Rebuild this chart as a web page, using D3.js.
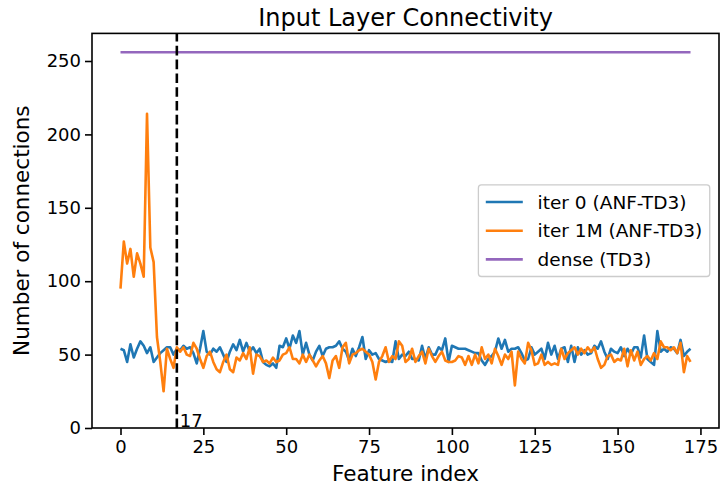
<!DOCTYPE html>
<html>
<head>
<meta charset="utf-8">
<script src="https://cdn.jsdelivr.net/npm/d3@7"></script>
<style>
  body { margin: 0; background: #fff; }
  svg { display: block; }
  text { font-family: "DejaVu Sans", sans-serif; fill: #000; }
</style>
</head>
<body>
<svg id="chart" width="727" height="491"></svg>
<script>
// Connections per input feature, at initialisation and after 1M steps
const iter0 = [
  54, 53, 45, 57, 48, 54, 59, 56, 51, 55, 45, 48, 51, 53, 55,
  55, 50, 54, 53, 56, 54, 55, 51, 44, 54, 66, 52, 50, 54, 52, 55, 50, 45, 52, 57,
  53, 60, 52, 58, 52, 55, 51, 54, 45, 43, 42, 44, 41, 56, 55,
  61, 54, 63, 58, 66,
  50, 58, 50, 46, 52, 56, 49, 54, 55, 55, 56, 59, 54,
  52, 46,
  54, 49, 55, 62, 47, 53, 50, 51, 47, 46, 45, 46, 45, 59, 47,
  50, 49, 52, 47, 47, 46, 56, 47, 55, 50, 50, 55, 53, 61, 45, 56, 55, 54,
  54, 54, 53, 52, 51, 51, 46, 43, 47, 49, 52, 61, 54, 60, 52, 54, 54,
  55, 51, 46, 47, 55, 50, 52, 54, 47, 58, 50, 56, 47, 54, 55, 45, 56, 45,
  55, 50, 53, 50, 51, 56, 54, 59, 52, 47, 54, 52, 51, 55, 49, 54, 50,
  55, 55, 48,
  63, 47, 45, 43, 66, 52, 54, 52, 55, 54, 51, 60, 49, 52, 54
];
const iter1M = [
  95, 127, 112, 122, 103, 119, 112, 103, 214, 123, 113, 62, 45, 25, 54,
  47, 41, 55, 52, 55, 50, 49, 58, 54, 47, 41, 49, 52, 45, 40, 38, 45, 50,
  40, 38, 48, 46, 51, 47, 55, 37, 50, 49, 45, 46, 44, 48, 45, 46, 50,
  51, 55, 47, 47, 44, 50, 45, 50, 46, 42, 46, 49, 44, 34, 46, 49, 41, 55,
  58, 44, 50, 51, 53, 54, 52, 50, 45, 33, 45, 49, 55, 45, 49, 47,
  59, 56, 45,
  47, 54, 45, 49, 52, 44, 54, 49, 45, 49, 52, 46, 45, 45, 46, 49,
  48, 43,
  49, 43, 50, 44, 55, 47, 50, 44, 54, 49, 43, 50, 47, 52, 29,
  52, 47, 44,
  58, 53, 43, 44, 50, 43, 45, 43, 44, 43, 54, 47, 51, 53, 55,
  50, 54,
  51, 55, 52, 55, 47, 41, 43, 49, 50, 45, 47, 46, 54, 42, 53,
  46, 52, 43,
  47, 49, 46, 51, 47, 59, 55, 55, 53, 55, 51, 58, 38, 49, 45
];
// Fully connected layer: every feature feeds all hidden units
const denseWidth = 256;
const cutoffFeature = 17;

const seriesLabels = ["iter 0 (ANF-TD3)", "iter 1M (ANF-TD3)", "dense (TD3)"];
const seriesColors = ["#1f77b4", "#ff7f0e", "#9467bd"];
const xTickValues = [0, 25, 50, 75, 100, 125, 150, 175];
const yTickValues = [0, 50, 100, 150, 200, 250];

const featureIdx = iter0.map((_, i) => i);
const denseSeries = featureIdx.map(() => denseWidth);

const svg = d3.select("#chart");
const box = { left: 92, right: 719, top: 33.4, bottom: 428 };
const lastIdx = featureIdx.length - 1;

const x = d3.scaleLinear()
  .domain([-lastIdx * 0.05, lastIdx * 1.05])
  .range([box.left, box.right]);
const y = d3.scaleLinear()
  .domain([0, denseWidth * 1.05])
  .range([box.bottom, box.top]);

svg.append("defs").append("clipPath").attr("id", "plotArea")
  .append("rect")
  .attr("x", box.left).attr("y", box.top)
  .attr("width", box.right - box.left).attr("height", box.bottom - box.top);

const lineGen = d3.line()
  .x((d, i) => x(featureIdx[i]))
  .y(d => y(d));

const plot = svg.append("g").attr("clip-path", "url(#plotArea)");
[iter0, iter1M, denseSeries].forEach((series, k) => {
  plot.append("path")
    .datum(series)
    .attr("d", lineGen)
    .attr("fill", "none")
    .attr("stroke", seriesColors[k])
    .attr("stroke-width", 2.6)
    .attr("stroke-linejoin", "round")
    .attr("stroke-linecap", "butt");
});

// Cut-off marker
plot.append("line")
  .attr("x1", x(cutoffFeature)).attr("x2", x(cutoffFeature))
  .attr("y1", box.bottom).attr("y2", box.top)
  .attr("stroke", "#000")
  .attr("stroke-width", 2.6)
  .attr("stroke-dasharray", "9.6,4.2");

svg.append("text")
  .attr("x", x(cutoffFeature) + 3)
  .attr("y", y(0) - 1)
  .attr("font-size", 18)
  .text(String(cutoffFeature));

// Axes
const xAxis = svg.append("g")
  .attr("transform", `translate(0,${box.bottom})`)
  .call(d3.axisBottom(x).tickValues(xTickValues).tickSize(7).tickPadding(5).tickFormat(d3.format("d")));
const yAxis = svg.append("g")
  .attr("transform", `translate(${box.left},0)`)
  .call(d3.axisLeft(y).tickValues(yTickValues).tickSize(7).tickPadding(4).tickFormat(d3.format("d")));

[xAxis, yAxis].forEach(ax => {
  ax.select(".domain").remove();
  ax.selectAll(".tick line").attr("stroke", "#000").attr("stroke-width", 1.6);
  ax.selectAll(".tick text")
    .attr("font-size", 18)
    .attr("font-family", "DejaVu Sans, sans-serif")
    .attr("fill", "#000");
});

svg.append("rect")
  .attr("x", box.left).attr("y", box.top)
  .attr("width", box.right - box.left).attr("height", box.bottom - box.top)
  .attr("fill", "none").attr("stroke", "#000").attr("stroke-width", 1.6);

// Titles
svg.append("text")
  .attr("x", (box.left + box.right) / 2).attr("y", 26)
  .attr("text-anchor", "middle").attr("font-size", 24)
  .text("Input Layer Connectivity");
svg.append("text")
  .attr("x", (box.left + box.right) / 2).attr("y", 481)
  .attr("text-anchor", "middle").attr("font-size", 21.5)
  .text("Feature index");
svg.append("text")
  .attr("transform", `translate(29,${(box.top + box.bottom) / 2}) rotate(-90)`)
  .attr("text-anchor", "middle").attr("font-size", 21.5)
  .text("Number of connections");

// Legend
const fs = 18.5;
const pad = 0.4 * fs, rowGap = 0.5 * fs, handleLen = 2 * fs, textGap = 0.8 * fs;
const rowH = fs * 1.05;
const legend = svg.append("g");
const labels = legend.selectAll("text.lbl").data(seriesLabels).enter().append("text")
  .attr("class", "lbl").attr("font-size", fs).text(d => d);
let maxW = 0;
labels.each(function () { maxW = Math.max(maxW, this.getComputedTextLength()); });
const lw = pad * 2 + handleLen + textGap + maxW;
const lh = pad * 2 + rowH * 3 + rowGap * 2;
const lx = box.right - 0.5 * fs - lw;
const ly = (box.top + box.bottom) / 2 - lh / 2;
legend.insert("rect", ":first-child")
  .attr("x", lx).attr("y", ly).attr("width", lw).attr("height", lh)
  .attr("rx", 3).attr("fill", "#fff").attr("fill-opacity", 0.8)
  .attr("stroke", "#cccccc").attr("stroke-width", 1.3);
seriesLabels.forEach((lab, k) => {
  const cy = ly + pad + rowH / 2 + k * (rowH + rowGap);
  legend.append("line")
    .attr("x1", lx + pad).attr("x2", lx + pad + handleLen)
    .attr("y1", cy).attr("y2", cy)
    .attr("stroke", seriesColors[k]).attr("stroke-width", 2.6);
});
labels
  .attr("x", lx + pad + handleLen + textGap)
  .attr("y", (d, k) => ly + pad + rowH / 2 + k * (rowH + rowGap))
  .attr("dy", "0.36em");
</script>
</body>
</html>
